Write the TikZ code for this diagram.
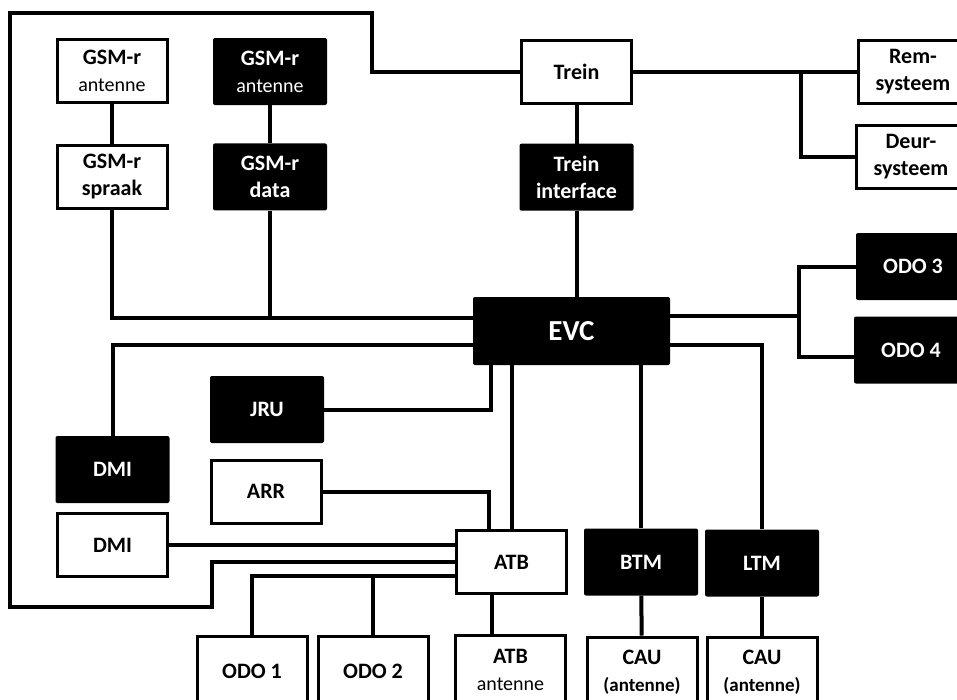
\documentclass[tikz,border=0pt]{standalone}
\usepackage{fontspec}
\setmainfont{Carlito}
\usepackage{tikz}
\usetikzlibrary{positioning}
\newcommand{\anttxt}{\fontsize{20}{25}\selectfont\mdseries}

\begin{document}
\begin{tikzpicture}[
  x=1pt,y=-1pt,
  every node/.style={font=\fontsize{22}{27}\selectfont\bfseries,align=center,inner sep=0pt},
  whitebox/.style={draw=black,line width=3pt,fill=white,minimum width=110pt,minimum height=63pt},
  blackbox/.style={fill=black,text=white,rounded corners=2pt,minimum width=114pt,minimum height=67pt},
  lowbox/.style={whitebox,minimum height=70pt},
  wire/.style={line width=4pt,color=black}
]
\useasboundingbox (0,0) rectangle (957,699);
\clip (0,0) rectangle (957,699);
\fill[white] (0,0) rectangle (957,699);

% GSM-r
\node[whitebox] (gsmant) at (112,71) {GSM-r\\\anttxt antenne};
\node[blackbox] (gsmantd) at (270,71.5) {GSM-r\\\anttxt antenne};
\node[whitebox,below=40pt of gsmant] (gsmspraak) {GSM-r\\spraak};
\node[blackbox,below=38pt of gsmantd] (gsmdata) {GSM-r\\data};

% trein
\node[whitebox] (trein) at (576.5,71.5) {Trein};
\node[blackbox,below=39pt of trein] (treinif) {Trein\\interface};
\node[whitebox] (rem) at (913,71.5) {Rem-\\systeem};
\node[whitebox] (deur) at (911,156.5) {Deur-\\systeem};
\node[blackbox] (odo3) at (913,266.5) {ODO 3};
\node[blackbox] (odo4) at (911,350) {ODO 4};

% EVC
\node[blackbox,minimum width=197pt,minimum height=68pt,font=\fontsize{29}{34}\selectfont\bfseries] (evc) at (571.5,331) {EVC};
\node[blackbox] (jru) at (267,409.5) {JRU};
\node[whitebox] (arr) at (266,491.5) {ARR};
\node[blackbox] (dmi) at (112.5,469.5) {DMI};
\node[whitebox,below=9pt of dmi] (dmiw) {DMI};
\node[whitebox] (atb) at (511.5,562) {ATB};
\node[blackbox] (btm) at (641,562) {BTM};
\node[blackbox] (ltm) at (762,563) {LTM};

% onderste rij
\node[lowbox] (odo1) at (252,671) {ODO 1};
\node[lowbox,right=8pt of odo1] (odo2) {ODO 2};
\node[lowbox] (atbant) at (510.5,670) {ATB\\\anttxt antenne};
\node[lowbox] (cau1) at (642,672) {CAU\\\fontsize{19}{25}\selectfont (antenne)};
\node[lowbox,right=7pt of cau1] (cau2) {CAU\\\fontsize{19}{25}\selectfont (antenne)};

\coordinate (gsmbus) at ([yshift=13pt]evc.west);
\coordinate (treinbr) at (801,71.5);
\coordinate (odobr) at (799,316);
\coordinate (odobus) at ([yshift=-14pt]atb.west);

\begin{scope}[wire]
\draw (gsmant) -- (gsmspraak);
\draw (gsmantd) -- (gsmdata);
\draw (gsmspraak.south) |- (gsmbus);
\draw (gsmdata.south) -- (gsmdata.south |- gsmbus);
\draw (trein) -- (treinif);
\draw (treinif.south) -- (treinif.south |- evc.north);
\draw (trein) -- (rem);
\draw (deur.west) -| (treinbr);
\draw (trein.west) -| (372,13) -| (10,607) -| (212,562) -- (atb.west);
\draw ([yshift=15pt]evc.east) -- (odobr);
\draw (odo3.west) -| (odobr) |- ([yshift=-7pt]odo4.west);
\draw ([yshift=-14pt]evc.east) -| (ltm.north);
\draw (btm.north) -- (btm.north |- evc.south);
\draw (atb.north) -- (atb.north |- evc.south);
\draw (jru.east) -| ([xshift=-80.5pt]evc.south);
\draw ([yshift=-14pt]evc.west) -| (dmi.north);
\draw (arr.east) -| ([xshift=-22.5pt]atb.north);
\draw (dmiw.east) -- (dmiw.east -| atb.west);
\draw (odobus) -| (odo1.north);
\draw (odo2.north) -- (odo2.north |- odobus);
\draw ([xshift=-20pt]atb.south) -- ([xshift=-20pt]atb.south |- atbant.north);
\draw (btm) -- (cau1);
\draw (ltm) -- (cau2);
\end{scope}
\end{tikzpicture}
\end{document}
